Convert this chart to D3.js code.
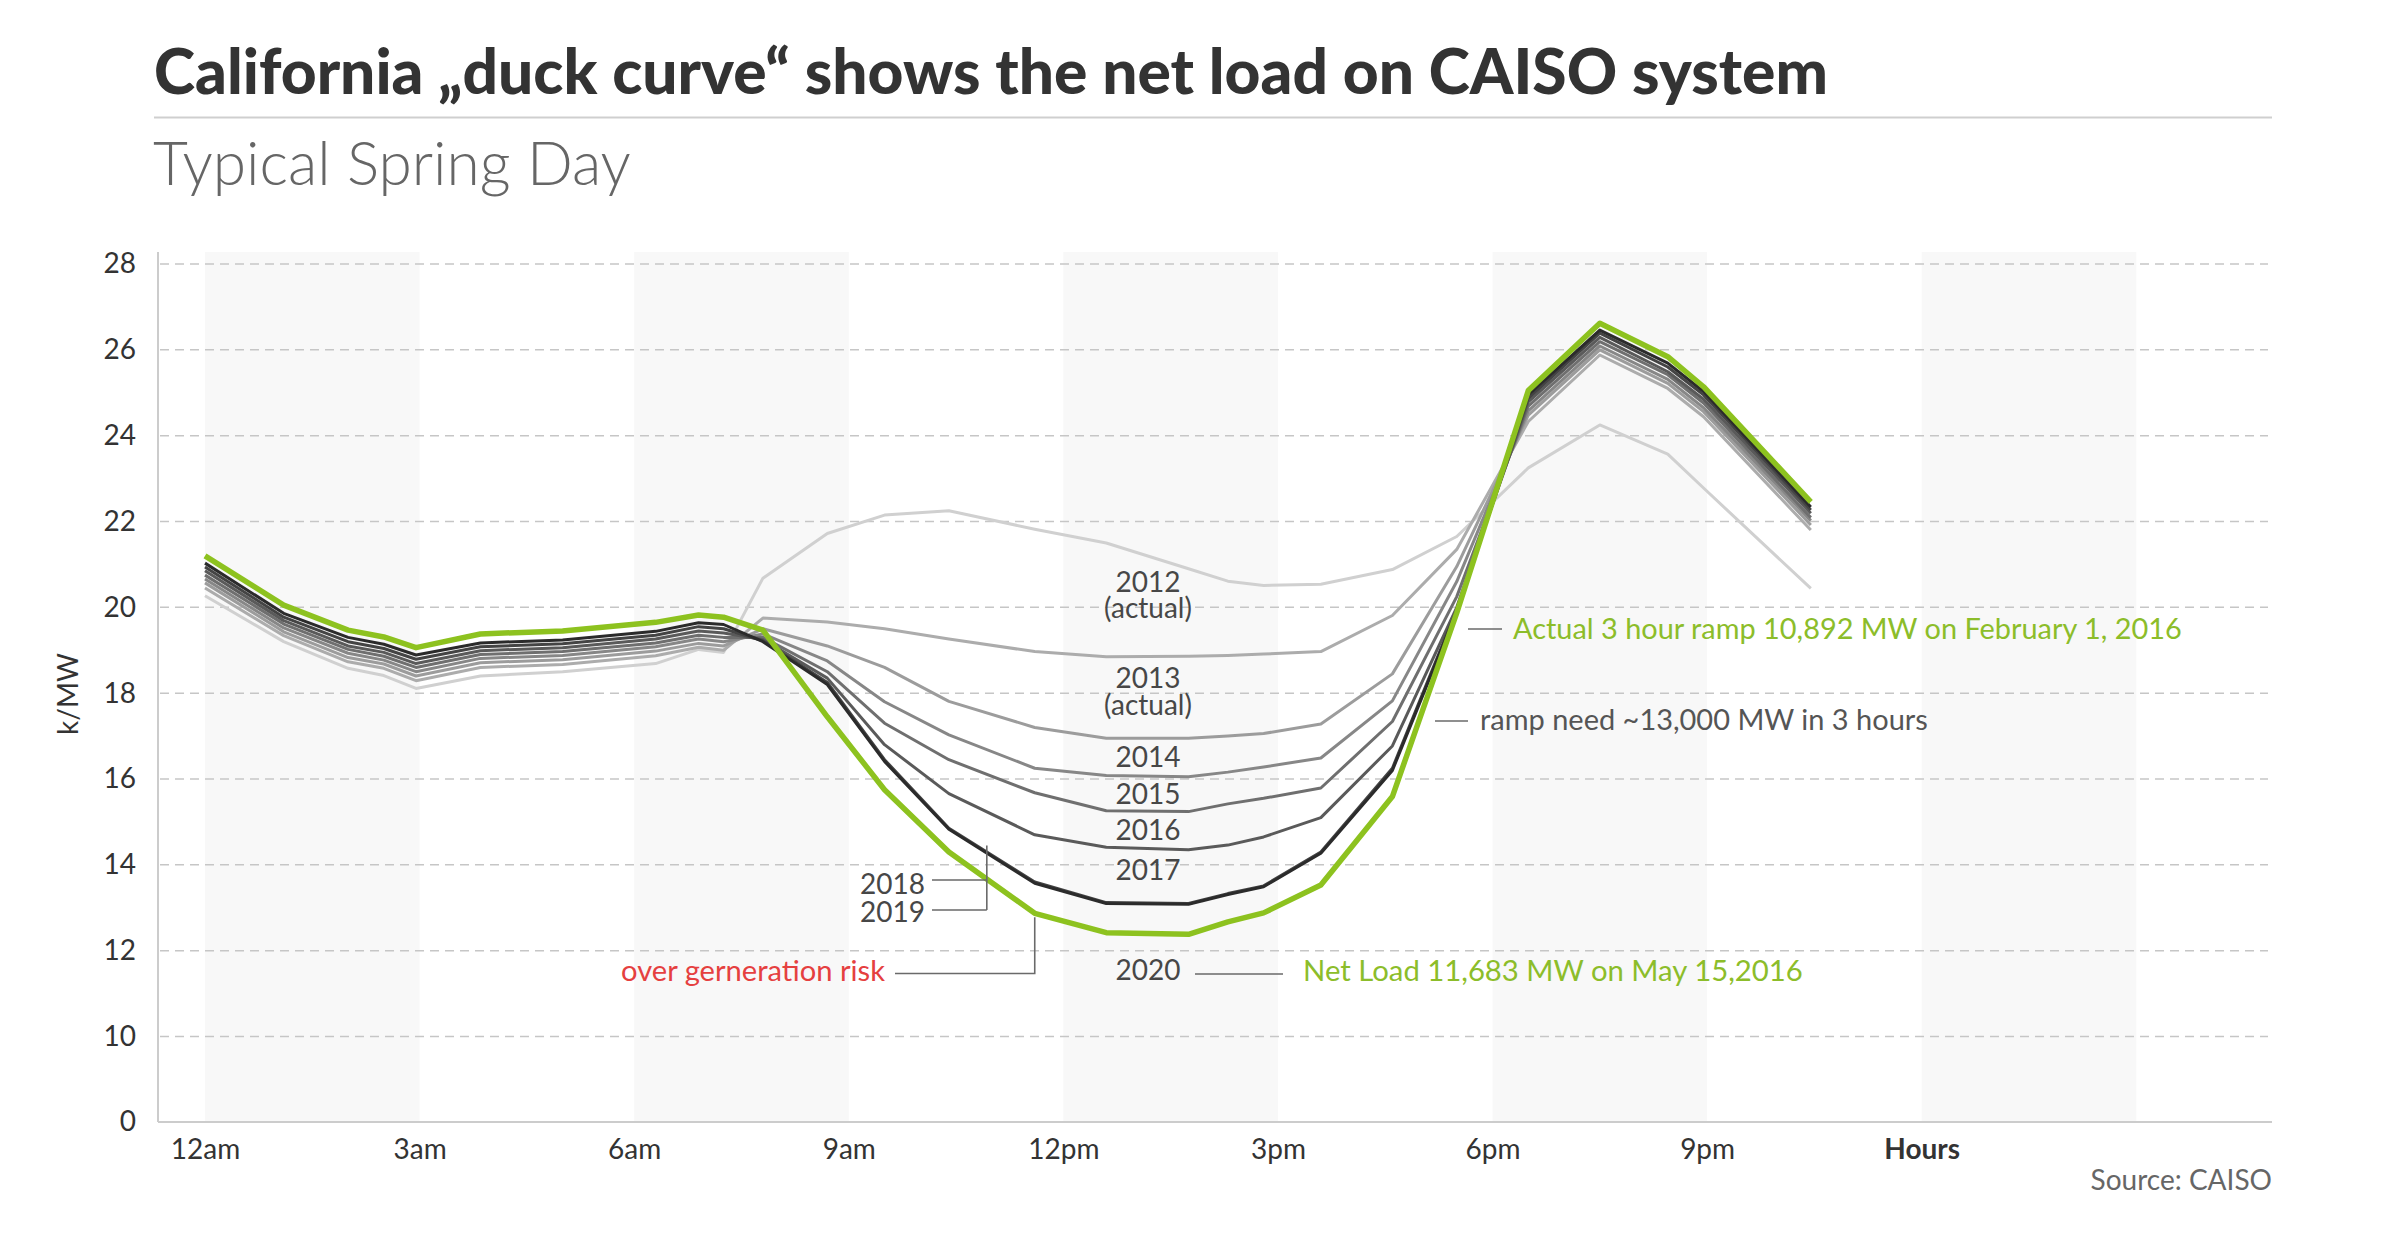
<!DOCTYPE html>
<html>
<head>
<meta charset="utf-8">
<script src="https://cdn.jsdelivr.net/npm/d3@7"></script>
<style>
  body { margin: 0; background: #fff; }
  svg { display: block; font-family: Lato, "Noto Sans", sans-serif; }
</style>
</head>
<body>
<svg id="chart" width="2400" height="1241"></svg>
<script>
// hours of the day where the traced curves have their vertices
const hours = [0, 1.1, 2, 2.5, 2.95, 3.85, 5, 6.3, 6.9, 7.25, 7.8, 8.7, 9.5, 10.4, 11.6, 12.6, 13.75, 14.3, 14.8, 15.6, 16.6, 17.5, 18.5, 19.5, 20.45, 20.95, 22.45]

// net load, thousand MW
const y2012 = [20.27, 19.2, 18.58, 18.41, 18.11, 18.4, 18.5, 18.69, 19.02, 18.95, 20.68, 21.72, 22.15, 22.25, 21.82, 21.5, 20.9, 20.61, 20.51, 20.54, 20.88, 21.65, 23.25, 24.25, 23.57, 22.78, 20.44]
const y2013 = [20.45, 19.34, 18.73, 18.58, 18.29, 18.6, 18.67, 18.87, 19.07, 19.0, 19.75, 19.66, 19.5, 19.26, 18.97, 18.85, 18.86, 18.88, 18.91, 18.97, 19.81, 21.35, 24.33, 25.88, 25.1, 24.44, 21.8]
const y2014 = [20.57, 19.43, 18.83, 18.68, 18.4, 18.71, 18.78, 18.98, 19.16, 19.1, 19.5, 19.1, 18.6, 17.81, 17.2, 16.95, 16.95, 17.0, 17.06, 17.28, 18.45, 20.95, 24.48, 26.0, 25.22, 24.56, 21.92]
const y2015 = [20.66, 19.52, 18.93, 18.77, 18.5, 18.81, 18.88, 19.08, 19.26, 19.2, 19.38, 18.75, 17.8, 17.03, 16.25, 16.08, 16.05, 16.16, 16.28, 16.49, 17.82, 20.6, 24.58, 26.09, 25.31, 24.65, 22.02]
const y2016 = [20.75, 19.61, 19.02, 18.86, 18.6, 18.9, 18.97, 19.17, 19.35, 19.3, 19.3, 18.5, 17.3, 16.45, 15.68, 15.26, 15.24, 15.42, 15.55, 15.79, 17.34, 20.25, 24.69, 26.19, 25.42, 24.76, 22.09]
const y2017 = [20.85, 19.69, 19.1, 18.95, 18.69, 18.99, 19.06, 19.26, 19.45, 19.4, 19.25, 18.35, 16.8, 15.66, 14.7, 14.41, 14.35, 14.46, 14.65, 15.1, 16.77, 20.0, 24.79, 26.29, 25.49, 24.85, 22.19]
const y2018 = [20.94, 19.77, 19.2, 19.04, 18.79, 19.08, 19.15, 19.35, 19.55, 19.5, 19.22, 18.25, 16.45, 14.85, 13.6, 13.12, 13.1, 13.33, 13.51, 14.3, 16.25, 19.95, 24.87, 26.39, 25.6, 24.95, 22.27]
const y2019 = [21.03, 19.86, 19.3, 19.14, 18.89, 19.17, 19.24, 19.44, 19.64, 19.6, 19.2, 18.2, 16.41, 14.83, 13.57, 13.1, 13.08, 13.31, 13.49, 14.27, 16.2, 19.9, 24.95, 26.46, 25.69, 25.03, 22.34]
const y2020 = [21.2, 20.05, 19.47, 19.31, 19.06, 19.38, 19.45, 19.65, 19.82, 19.77, 19.47, 17.45, 15.75, 14.3, 12.87, 12.42, 12.38, 12.67, 12.88, 13.53, 15.59, 19.87, 25.05, 26.62, 25.84, 25.14, 22.46]

const years = ['2012', '2013', '2014', '2015', '2016', '2017', '2018', '2019', '2020']
const seriesValues = [y2012, y2013, y2014, y2015, y2016, y2017, y2018, y2019, y2020]
const seriesColors = ['#d0d0d0', '#acacac', '#9c9c9c', '#878787', '#6f6f6f', '#5a5a5a', '#444444', '#2b2b2b', '#8dc21f']

const yTicks = [0, 10, 12, 14, 16, 18, 20, 22, 24, 26, 28]
const xTicks = [0, 3, 6, 9, 12, 15, 18, 21, 24]
const xTickLabels = ['12am', '3am', '6am', '9am', '12pm', '3pm', '6pm', '9pm', 'Hours']
const bandStarts = [0, 6, 12, 18, 24]

const svg = d3.select('#chart')
const plotLeft = 158, plotRight = 2268, plotTop = 252, plotBottom = 1122

const x = d3.scaleLinear().domain([0, 24]).range([205, 1921.7])
const y = d3.scaleLinear().domain([0, 10, 28]).range([plotBottom, 1036.5, 264])

function fit(sel, w) {
    const len = sel.node().getComputedTextLength()
    const fs = parseFloat(sel.attr('font-size'))
    sel.attr('font-size', fs * w / len)
}

// title block
const title = svg.append('text')
    .attr('x', 154).attr('y', 94)
    .attr('font-size', 58).attr('font-weight', 900)
    .attr('fill', '#333')
    .text('California \u201educk curve\u201c shows the net load on CAISO system')
fit(title, 1674)

svg.append('line')
    .attr('x1', 154).attr('x2', 2272)
    .attr('y1', 117.5).attr('y2', 117.5)
    .attr('stroke', '#cfcfcf').attr('stroke-width', 2)

const sub = svg.append('text')
    .attr('x', 153).attr('y', 185)
    .attr('font-size', 58).attr('font-weight', 300)
    .attr('fill', '#666')
    .text('Typical Spring Day')
fit(sub, 478)

// background bands
svg.append('g').selectAll('rect')
    .data(bandStarts)
    .enter().append('rect')
    .attr('x', d => x(d))
    .attr('width', d => x(d + 3) - x(d))
    .attr('y', plotTop)
    .attr('height', plotBottom - plotTop)
    .attr('fill', '#f8f8f8')

// grid
svg.append('g').selectAll('line')
    .data(yTicks.filter(d => d > 0))
    .enter().append('line')
    .attr('x1', plotLeft + 2).attr('x2', plotRight)
    .attr('y1', d => y(d)).attr('y2', d => y(d))
    .attr('stroke', '#c6c6c6')
    .attr('stroke-width', 1.5)
    .attr('stroke-dasharray', '9,6')

svg.append('line')
    .attr('x1', plotLeft).attr('x2', 2272)
    .attr('y1', plotBottom).attr('y2', plotBottom)
    .attr('stroke', '#cccccc').attr('stroke-width', 2)
svg.append('line')
    .attr('x1', plotLeft).attr('x2', plotLeft)
    .attr('y1', plotTop).attr('y2', plotBottom)
    .attr('stroke', '#cccccc').attr('stroke-width', 2)

// axes
const yAxis = svg.append('g')
    .attr('transform', `translate(${plotLeft - 22},0)`)
    .call(d3.axisLeft(y).tickValues(yTicks).tickSize(0).tickPadding(0))
yAxis.select('.domain').remove()
yAxis.selectAll('text')
    .attr('font-size', 28).attr('font-family', 'Lato').attr('fill', '#333')

const xAxis = svg.append('g')
    .attr('transform', `translate(0,${plotBottom})`)
    .call(d3.axisBottom(x).tickValues(xTicks).tickSize(0).tickPadding(0)
        .tickFormat((d, i) => xTickLabels[i]))
xAxis.select('.domain').remove()
xAxis.selectAll('text')
    .attr('dy', null).attr('y', 37)
    .attr('font-size', 28).attr('font-family', 'Lato').attr('fill', '#333')
    .attr('font-weight', (d, i) => i === xTicks.length - 1 ? 700 : 400)

svg.append('text')
    .attr('transform', 'translate(78,694) rotate(-90)')
    .attr('text-anchor', 'middle')
    .attr('font-size', 28).attr('fill', '#333')
    .text('k/MW')

// curves
const line = d3.line()
    .x((d, i) => x(hours[i]))
    .y(d => y(d))

svg.append('g').selectAll('path')
    .data(seriesValues)
    .enter().append('path')
    .attr('d', line)
    .attr('fill', 'none')
    .attr('stroke', (d, i) => seriesColors[i])
    .attr('stroke-width', (d, i) => i === seriesValues.length - 1 ? 5.5 : 3)
    .attr('stroke-linejoin', 'round')

// year labels in the belly
const yearLabels = [
    ['2012', 591.5], ['(actual)', 618], ['2013', 688], ['(actual)', 715],
    ['2014', 766.5], ['2015', 803.5], ['2016', 839.5], ['2017', 880], ['2020', 980]
]
svg.append('g').selectAll('text')
    .data(yearLabels)
    .enter().append('text')
    .attr('x', 1148).attr('y', d => d[1])
    .attr('text-anchor', 'middle')
    .attr('font-size', 28).attr('fill', '#474747')
    .text(d => d[0])

const ann = svg.append('g')
    .attr('fill', 'none').attr('stroke', '#6a6a6a').attr('stroke-width', 1.6)

svg.append('text').attr('x', 925).attr('y', 893.5).attr('text-anchor', 'end')
    .attr('font-size', 28).attr('fill', '#474747').text('2018')
svg.append('text').attr('x', 925).attr('y', 922).attr('text-anchor', 'end')
    .attr('font-size', 28).attr('fill', '#474747').text('2019')
ann.append('path').attr('d', `M932,880H${x(10.93)}M932,910H${x(10.93)}M${x(10.93)},${y(14.45)}V910`)

const risk = svg.append('text').attr('x', 885).attr('y', 981).attr('text-anchor', 'end')
    .attr('font-size', 28).attr('fill', '#e5403f').text('over gerneration risk')
fit(risk, 264)
ann.append('path').attr('d', `M895,973.5H${x(11.6)}V${y(12.78)}`)

ann.append('path').attr('d', 'M1195,974H1283')
const net = svg.append('text').attr('x', 1303).attr('y', 981)
    .attr('font-size', 28).attr('fill', '#8cbd2a').text('Net Load 11,683 MW on May 15,2016')
fit(net, 500)

ann.append('path').attr('d', 'M1468,629H1502')
const ramp = svg.append('text').attr('x', 1513).attr('y', 638.5)
    .attr('font-size', 28).attr('fill', '#8cbd2a').text('Actual 3 hour ramp 10,892 MW on February 1, 2016')
fit(ramp, 669)

ann.append('path').attr('d', 'M1435,721H1468')
const need = svg.append('text').attr('x', 1480).attr('y', 730)
    .attr('font-size', 28).attr('fill', '#555').text('ramp need ~13,000 MW in 3 hours')
fit(need, 448)

svg.append('text').attr('x', 2272).attr('y', 1190).attr('text-anchor', 'end')
    .attr('font-size', 28).attr('fill', '#666').text('Source: CAISO')
</script>
</body>
</html>
